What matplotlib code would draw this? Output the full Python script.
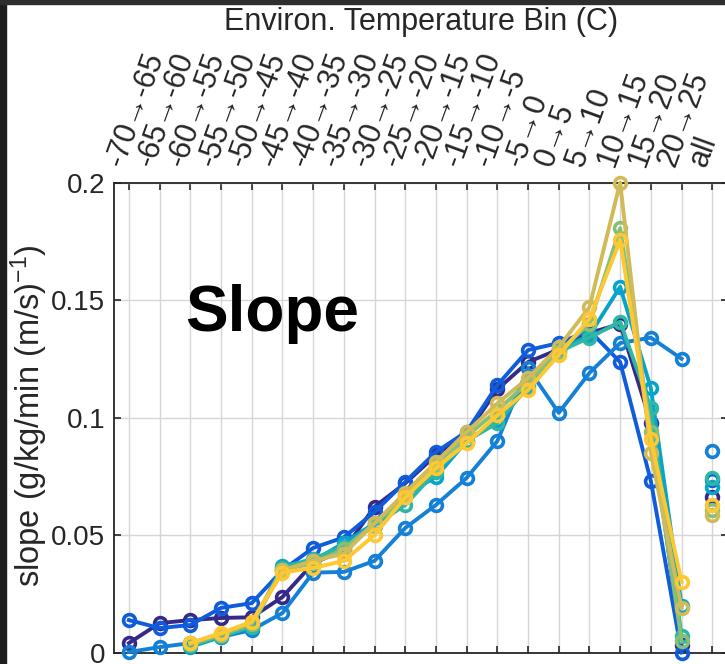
import numpy as np
import matplotlib.pyplot as plt
from matplotlib.patches import Rectangle

plt.rcParams['font.family'] = ['Liberation Sans', 'DejaVu Sans']
plt.rcParams['mathtext.fontset'] = 'custom'
plt.rcParams['mathtext.rm'] = 'Liberation Sans'
plt.rcParams['mathtext.it'] = 'Liberation Sans:italic'
plt.rcParams['mathtext.bf'] = 'Liberation Sans:bold'

# --- Data ---
bin_labels = ['-70→-65', '-65→-60', '-60→-55', '-55→-50', '-50→-45',
              '-45→-40', '-40→-35', '-35→-30', '-30→-25', '-25→-20',
              '-20→-15', '-15→-10', '-10→-5', '-5→0', '0→5', '5→10',
              '10→15', '15→20', '20→25', 'all']
y_ticks = [0, 0.05, 0.1, 0.15, 0.2]
y_tick_labels = ['0', '0.05', '0.1', '0.15', '0.2']

nan = np.nan
# one line per series over the 19 temperature bins
slope_1 = [0.004, 0.0125, 0.0138, 0.0147, 0.015, 0.0236, 0.038, 0.0436, 0.062, 0.072,
           0.084, 0.093, 0.112, 0.1236, 0.129, 0.136, 0.1398, 0.0977, 0.003]
slope_2 = [0.0138, 0.0104, 0.0117, 0.019, 0.021, 0.035, 0.0445, 0.049, 0.0598, 0.0726,
           0.0853, 0.094, 0.1138, 0.1287, 0.1317, 0.137, 0.1236, 0.073, 0.0]
slope_3 = [0.0002, 0.0023, 0.004, 0.0066, 0.0096, 0.0168, 0.034, 0.0343, 0.039, 0.053,
           0.0628, 0.0743, 0.090, 0.121, 0.102, 0.119, 0.1317, 0.134, 0.125]
slope_4 = [nan, nan, 0.0024, 0.0066, 0.011, 0.037, 0.039, 0.0466, 0.055, 0.067,
           0.0747, 0.090, 0.099, 0.114, 0.129, 0.135, 0.1556, 0.1125, 0.020]
slope_5 = [nan, nan, 0.003, 0.007, 0.011, 0.036, 0.040, 0.045, 0.054, 0.0628,
           0.077, 0.090, 0.0977, 0.113, 0.128, 0.134, 0.1407, 0.104, 0.007]
slope_6 = [nan, nan, 0.0035, 0.0075, 0.012, 0.035, 0.038, 0.044, 0.055, 0.066,
           0.080, 0.092, 0.103, 0.115, 0.128, 0.140, 0.1806, 0.094, 0.005]
slope_7 = [nan, nan, 0.004, 0.008, 0.013, 0.035, 0.039, 0.042, 0.055, 0.068,
           0.081, 0.0938, 0.106, 0.1168, 0.130, 0.147, 0.200, 0.085, 0.019]
slope_8 = [nan, nan, 0.004, 0.0083, 0.013, 0.034, 0.036, 0.039, 0.050, 0.066,
           0.0785, 0.089, 0.101, 0.1117, 0.1266, 0.142, 0.1755, 0.091, 0.030]
# value of each series for the 'all' column (markers only)
slope_all = [0.066, 0.0734, 0.0858, 0.0704, 0.0742, 0.0606, 0.0585, 0.0628]

series = [slope_1, slope_2, slope_3, slope_4, slope_5, slope_6, slope_7, slope_8]
# parula-like colours
colors = ['#352a87', '#0f5cdd', '#1481d6', '#06a4ca',
          '#2eb7a4', '#87bf77', '#d1bb59', '#fec832']

text_col = '#262626'

# --- Figure ---
fig = plt.figure(figsize=(7.25, 6.64), dpi=100)
ax = fig.add_axes([0.1566, 0.0173, 0.847, 0.7078])

x_bins = np.arange(1, len(bin_labels))
x_all = len(bin_labels)

for vals, all_val, c in zip(series, slope_all, colors):
    ax.plot(x_bins, vals, '-o', color=c, lw=2.8, ms=8.5, mew=2.6,
            mfc='none', clip_on=False, zorder=3)
    ax.plot([x_all], [all_val], 'o', color=c, ms=8.5, mew=2.6,
            mfc='none', clip_on=False, zorder=3)

ax.set_xlim(0.5, len(bin_labels) + 0.5)
ax.set_ylim(0, 0.2)

# top x axis with rotated bin labels
ax.set_xticks(np.arange(1, len(bin_labels) + 1))
ax.set_xticklabels(bin_labels, rotation=70, ha='left', va='bottom',
                   rotation_mode='anchor', fontsize=22, color=text_col)
ax.tick_params(axis='x', top=True, bottom=True, labeltop=True, labelbottom=False,
               direction='in', length=5, width=1.2, pad=9, colors=text_col)
ax.set_yticks(y_ticks)
ax.set_yticklabels(y_tick_labels, fontsize=20, color=text_col)
ax.tick_params(axis='y', left=True, right=True, direction='in',
               length=5, width=1.2, pad=6, colors=text_col)

ax.xaxis.set_label_position('top')
ax.set_xlabel('Environ. Temperature Bin (C)', fontsize=22, color=text_col)
ax.xaxis.label.set_va('center')
ax.xaxis.set_label_coords(0.5, 1.3415)

ax.set_ylabel('slope (g/kg/min (m/s)$^{-1}$)', fontsize=23.5, color=text_col)
ax.yaxis.label.set_va('center')
ax.yaxis.set_label_coords(-0.1376, 0.505)

ax.grid(True, color='#d6d6d6', lw=1.0)
ax.set_axisbelow(True)
for sp in ax.spines.values():
    sp.set_color(text_col)
    sp.set_linewidth(1.3)

ax.text(0.1164, 0.684, 'Slope', transform=ax.transAxes, fontsize=46,
        fontweight='bold', color='black', va='baseline', ha='left')

# dark screenshot frame on left and top
fig.add_artist(Rectangle((0, 0), 6 / 725, 1, transform=fig.transFigure,
                         color='#1e1e1e', zorder=10))
fig.add_artist(Rectangle((0, 1 - 4 / 664), 1, 4 / 664, transform=fig.transFigure,
                         color='#2e2e2e', zorder=10))

fig.savefig('out.png', dpi=100)
